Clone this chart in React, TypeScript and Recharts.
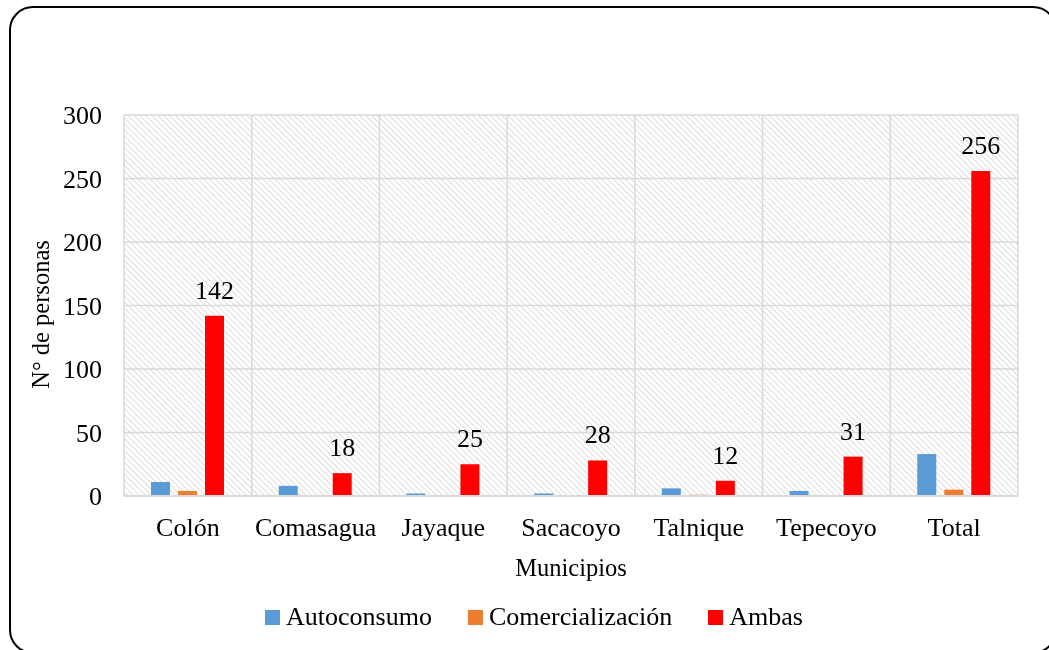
import React from 'react';
import { BarChart, Bar, XAxis, YAxis, CartesianGrid, Legend, LabelList } from 'recharts';

const municipios = ['Colón', 'Comasagua', 'Jayaque', 'Sacacoyo', 'Talnique', 'Tepecoyo', 'Total'];
const autoconsumo = [11, 8, 2, 2, 6, 4, 33];
const comercializacion = [4, 0, 0, 0, 1, 0, 5];
const ambas = [142, 18, 25, 28, 12, 31, 256];
const yTicks = [0, 50, 100, 150, 200, 250, 300];
const seriesNames = ['Autoconsumo', 'Comercialización', 'Ambas'];

const FONT = '"Liberation Serif", "Times New Roman", serif';
const GRID = '#d9d9d9';

const data = municipios.map((name, i) => ({
  name,
  autoconsumo: autoconsumo[i],
  comercializacion: comercializacion[i],
  ambas: ambas[i],
}));

const renderLegend = (props: any) => {
  const payload = [...(props.payload || [])].sort(
    (a: any, b: any) => seriesNames.indexOf(a.value) - seriesNames.indexOf(b.value)
  );
  return (
    <ul style={{ listStyle: 'none', margin: 0, padding: 0, paddingLeft: 42, textAlign: 'center', fontFamily: FONT, fontSize: 26, color: '#000' }}>
      {payload.map((entry: any, i: number) => (
        <li key={`item-${i}`} style={{ display: 'inline-block', marginLeft: i === 0 ? 0 : 36 }}>
          <span style={{ display: 'inline-block', width: 15, height: 15, background: entry.color, marginRight: 6 }} />
          {entry.value}
        </li>
      ))}
    </ul>
  );
};

// rotated y title, a bit below the plot's middle like the original
const YTitle = (props: any) => {
  const { viewBox } = props;
  const cx = viewBox.x + 32;
  const cy = viewBox.y + viewBox.height / 2 + 9;
  return (
    <text
      x={cx}
      y={cy}
      transform={`rotate(-90 ${cx} ${cy})`}
      textAnchor="middle"
      dominantBaseline="central"
      fill="#000"
      fontSize={24.5}
      fontFamily={FONT}
    >
      N° de personas
    </text>
  );
};

export default function App() {
  return (
    <div style={{ position: 'relative', width: 1033, height: 634 }}>
      <div
        style={{
          position: 'fixed',
          left: 9,
          top: 6,
          width: 1048,
          height: 648,
          border: '2px solid #000',
          borderRadius: 24,
          boxSizing: 'border-box',
          pointerEvents: 'none',
        }}
      />
      <BarChart
        width={1033}
        height={634}
        data={data}
        margin={{ top: 107, right: 23, left: 0, bottom: 0 }}
        barSize={19}
        barGap={8}
      >
        <defs>
          <pattern id="hatch" patternUnits="userSpaceOnUse" width="4.2" height="4.2" patternTransform="rotate(-45)">
            <rect width="4.2" height="4.2" fill="#fff" />
            <line x1="0" y1="0" x2="0" y2="4.2" stroke="#d9d9d9" strokeWidth="1.7" />
          </pattern>
        </defs>
        <CartesianGrid
          fill="url(#hatch)"
          fillOpacity={1}
          stroke={GRID}
          strokeWidth={1.5}
          verticalCoordinatesGenerator={({ offset }: any) =>
            municipios.map((_, i) => offset.left + (i * offset.width) / municipios.length).concat(offset.left + offset.width)
          }
        />
        <XAxis
          dataKey="name"
          height={106}
          tickLine={false}
          tickSize={0}
          tickMargin={21.5}
          axisLine={{ stroke: GRID, strokeWidth: 2 }}
          tick={{ fill: '#000', fontSize: 26, fontFamily: FONT }}
          label={{ value: 'Municipios', position: 'insideBottom', offset: 26, fill: '#000', fontSize: 24.5, fontFamily: FONT }}
        />
        <YAxis
          width={116}
          domain={[0, 300]}
          ticks={yTicks}
          axisLine={false}
          tickLine={false}
          tickSize={0}
          tickMargin={22}
          tick={{ fill: '#000', fontSize: 26, fontFamily: FONT }}
          label={{ content: YTitle }}
        />
        <Legend verticalAlign="bottom" content={renderLegend} wrapperStyle={{ height: 40, bottom: 0 }} />
        <Bar dataKey="autoconsumo" name="Autoconsumo" fill="#5B9BD5" isAnimationActive={false} />
        <Bar dataKey="comercializacion" name="Comercialización" fill="#ED7D31" isAnimationActive={false} />
        <Bar dataKey="ambas" name="Ambas" fill="#FF0000" isAnimationActive={false}>
          <LabelList dataKey="ambas" position="top" offset={17} fill="#000" fontSize={26} fontFamily={FONT} />
        </Bar>
      </BarChart>
    </div>
  );
}
